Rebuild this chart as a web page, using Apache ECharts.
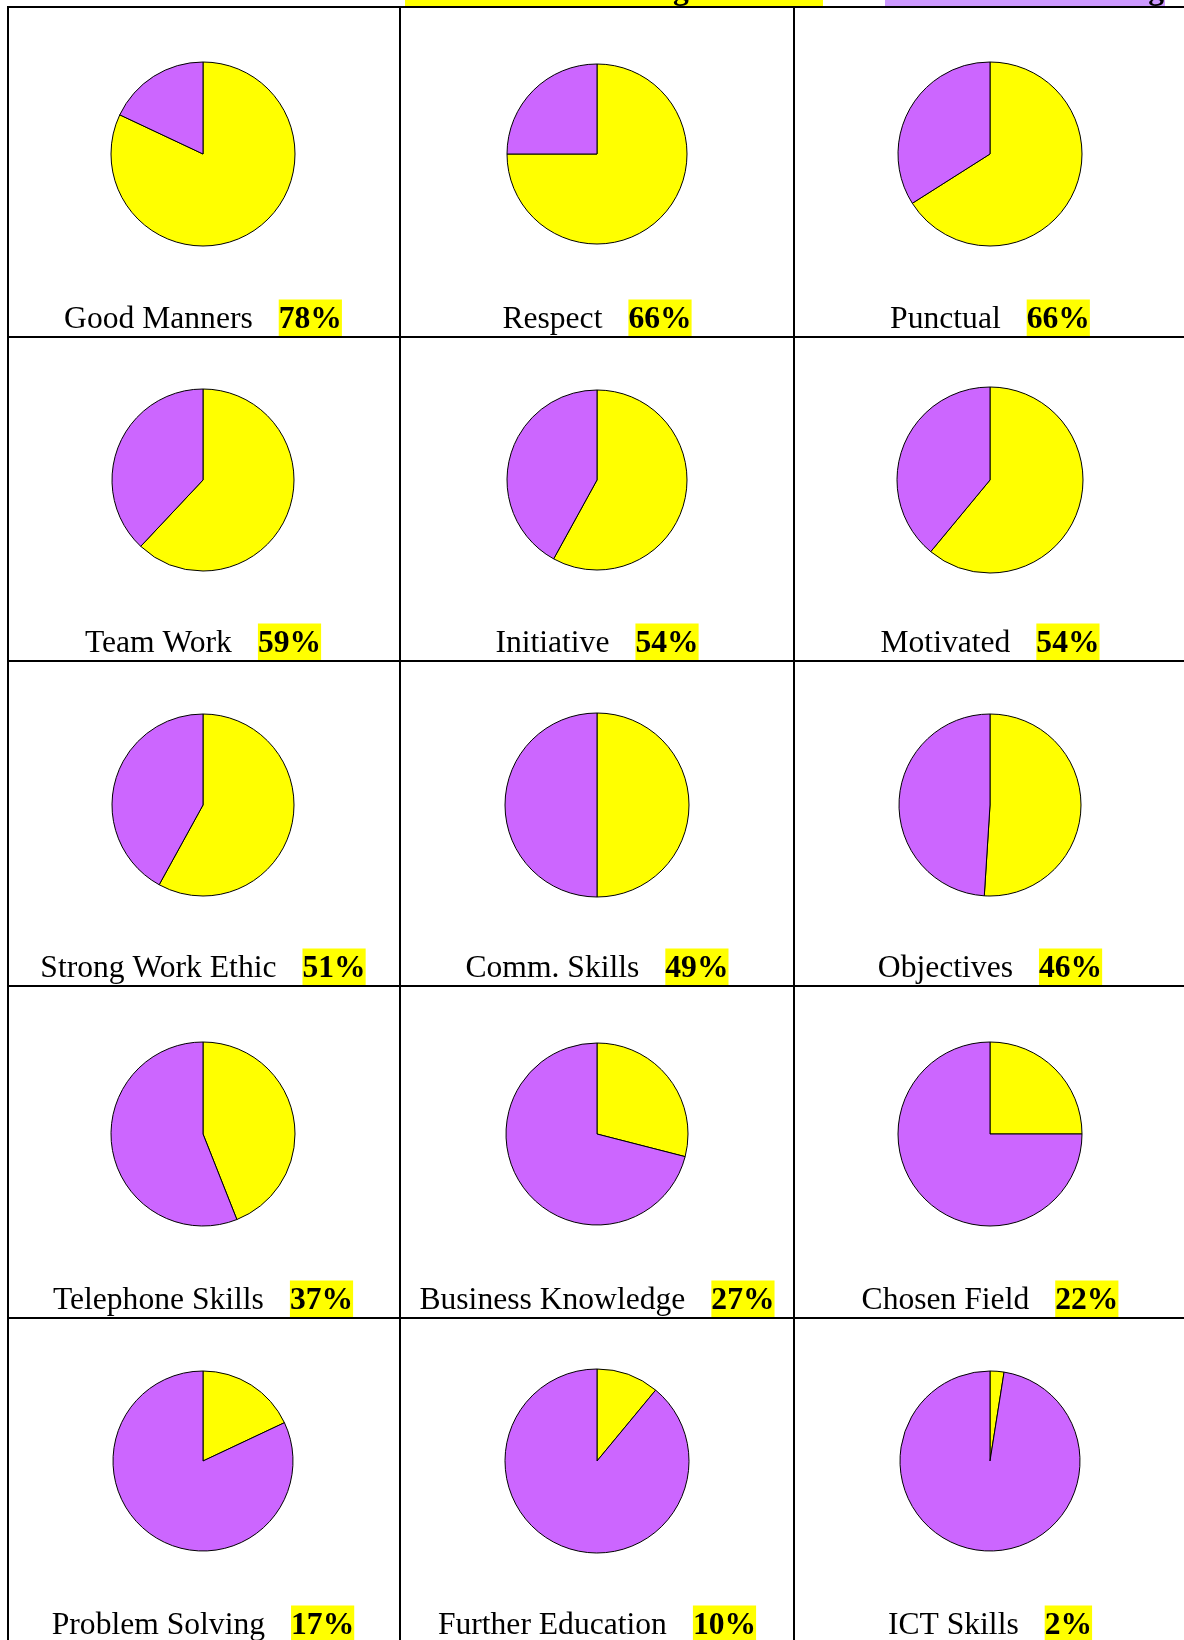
<!DOCTYPE html>
<html>
<head>
<meta charset="utf-8">
<script src="https://cdn.jsdelivr.net/npm/echarts@6/dist/echarts.min.js"></script>
<style>
html,body{margin:0;padding:0;background:#fff;}
#chart{width:1184px;height:1640px;}
</style>
</head>
<body>
<div id="chart"></div>
<script>
// ---- data ----
const categories = ['Good Manners','Respect','Punctual','Team Work','Initiative','Motivated',
  'Strong Work Ethic','Comm. Skills','Objectives','Telephone Skills','Business Knowledge','Chosen Field',
  'Problem Solving','Further Education','ICT Skills'];
const labelPercent = [78,66,66,59,54,54,51,49,46,37,27,22,17,10,2];
// share of the yellow slice as drawn in each pie
const traditionalShare = [82,75,66,62,58,61,58,50,51,44,29,25,18,11,2.5];
const legendNames = ['Traditional Teaching Methods','Blended Learning'];
const headerText = 'Total over the selected:';

// ---- layout ----
const YELLOW = '#ffff00', PURPLE = '#cc66ff', LAV = '#cc99ff';
const colX = [203, 597, 990];
const rowY = [154, 480, 805, 1134, 1461];
const radii = [92, 90, 92, 91, 90, 93, 91, 92, 91, 92, 91, 92, 90, 92, 90];
const vLines = [8, 400, 794];
const hLines = [7, 337, 661, 986, 1318];
const rowBottom = [337, 661, 986, 1318, 1643];
const FS = 31.6;
const FONT = '"Liberation Serif","Times New Roman",serif';

const mctx = document.createElement('canvas').getContext('2d');
function tw(txt, bold){ mctx.font = (bold?'bold ':'') + FS + 'px ' + FONT; return mctx.measureText(txt).width; }

const series = [];
const graphics = [];

// grid lines
vLines.forEach(x => graphics.push({type:'line', shape:{x1:x,y1:6,x2:x,y2:1640}, style:{stroke:'#000',lineWidth:2}, silent:true, z:5}));
hLines.forEach(y => graphics.push({type:'line', shape:{x1:7,y1:y,x2:1184,y2:y}, style:{stroke:'#000',lineWidth:2}, silent:true, z:5}));

// header (mostly cut off at top)
const MID = 0.305 * FS;
graphics.push({type:'text', x:45, y:0 - MID, style:{text:headerText, font: FS+'px '+FONT, fill:'#000', verticalAlign:'middle', textAlign:'left'}, silent:true});
graphics.push({type:'rect', shape:{x:405,y:-40,width:418,height:46.5}, style:{fill:YELLOW}, silent:true, z:1});
graphics.push({type:'text', x:407, y:-MID, z:2, style:{text:legendNames[0], font:'bold '+FS+'px '+FONT, fill:'#000', verticalAlign:'middle', textAlign:'left'}, silent:true});
graphics.push({type:'rect', shape:{x:885,y:-40,width:280,height:46.5}, style:{fill:LAV}, silent:true, z:1});
graphics.push({type:'text', x:1164, y:-MID, z:2, style:{text:legendNames[1], font:'bold '+FS+'px '+FONT, fill:'#000', verticalAlign:'middle', textAlign:'right'}, silent:true});

categories.forEach((name, i) => {
  const c = i % 3, r = Math.floor(i / 3);
  const cx = colX[c], cy = rowY[r];
  series.push({
    type:'pie', center:[cx, cy], radius:radii[i], startAngle:90, clockwise:true,
    silent:true, animation:false, label:{show:false}, labelLine:{show:false},
    itemStyle:{borderColor:'#000', borderWidth:1},
    emphasis:{disabled:true},
    data:[
      {name:legendNames[0], value:traditionalShare[i], itemStyle:{color:YELLOW}},
      {name:legendNames[1], value:100 - traditionalShare[i], itemStyle:{color:PURPLE}}
    ]
  });
  const pct = labelPercent[i] + '%';
  const wN = tw(name, false), wP = tw(pct, true), gap = 26;
  const x0 = cx - (wN + gap + wP) / 2;
  const base = rowBottom[r] - 7.5;
  graphics.push({type:'text', x:x0, y:base - MID, style:{text:name, font:FS+'px '+FONT, fill:'#000', verticalAlign:'middle', textAlign:'left'}, silent:true});
  const bx = x0 + wN + gap;
  graphics.push({type:'rect', shape:{x:bx, y:base - 30, width:wP, height:36.5}, style:{fill:YELLOW}, silent:true, z:1});
  graphics.push({type:'text', x:bx, y:base - MID, z:2, style:{text:pct, font:'bold '+FS+'px '+FONT, fill:'#000', verticalAlign:'middle', textAlign:'left'}, silent:true});
});

const chart = echarts.init(document.getElementById('chart'), null, {renderer:'canvas'});
chart.setOption({
  animation:false,
  backgroundColor:'#fff',
  series: series,
  graphic: graphics
});
</script>
</body>
</html>
